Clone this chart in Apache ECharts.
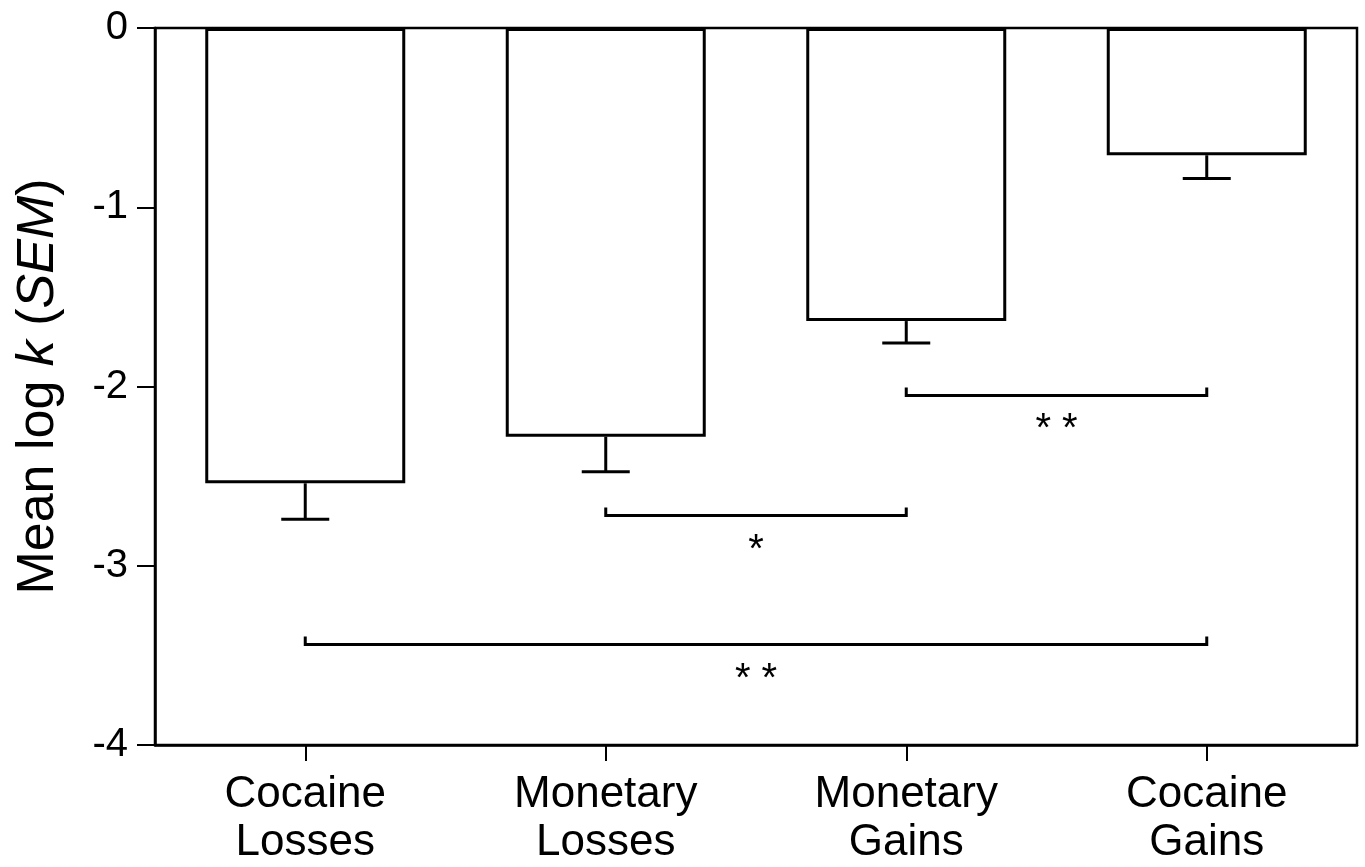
<!DOCTYPE html>
<html>
<head>
<meta charset="utf-8">
<script src="https://cdn.jsdelivr.net/npm/echarts@6/dist/echarts.min.js"></script>
<style>html,body{margin:0;padding:0;background:#fff;}#chart{width:1365px;height:867px;}</style>
</head>
<body>
<div id="chart"></div>
<script>
const categories = ['Cocaine\nLosses', 'Monetary\nLosses', 'Monetary\nGains', 'Cocaine\nGains'];
const means = [-2.54, -2.28, -1.635, -0.71];
const sems = [0.20, 0.195, 0.122, 0.13];
const yTicks = [0, -1, -2, -3, -4];
// brackets: [fromIndex, toIndex, yValue, label]
const brackets = [
  [1, 2, -2.72, '*'],
  [2, 3, -2.05, '* *'],
  [0, 3, -3.44, '* *']
];

const FONT = 'Liberation Sans, Arial, sans-serif';
const chart = echarts.init(document.getElementById('chart'), null, {renderer: 'canvas'});

const errData = means.map((m, i) => [i, m, m - sems[i]]);
const brData = brackets.map(b => [b[0], b[1], b[2]]);

chart.setOption({
  animation: false,
  backgroundColor: '#fff',
  grid: {left: 155, right: 8, top: 28, bottom: 122, show: true, borderColor: '#000', borderWidth: 2.5,
    backgroundColor: 'transparent', containLabel: false, outerBoundsMode: 'none'},
  xAxis: {
    type: 'category',
    data: categories,
    position: 'bottom',
    axisLine: {show: true, onZero: false, lineStyle: {color: '#000', width: 2.5}},
    axisTick: {show: true, alignWithLabel: true, length: 16, lineStyle: {color: '#000', width: 2}},
    axisLabel: {color: '#000', fontFamily: FONT, fontSize: 44, lineHeight: 48, margin: 26},
    splitLine: {show: false}
  },
  yAxis: {
    type: 'value',
    min: -4, max: 0, interval: 1,
    axisLine: {show: true, lineStyle: {color: '#000', width: 2.5}},
    axisTick: {show: true, length: 18, lineStyle: {color: '#000', width: 2}},
    axisLabel: {color: '#000', fontFamily: FONT, fontSize: 40, margin: 27,
      formatter: v => String(v)},
    splitLine: {show: false},
    name: '{n|Mean log }{i|k}{n| (}{i|SEM}{n|)}',
    nameLocation: 'middle',
    nameGap: 90,
    nameRotate: 90,
    nameTextStyle: {
      rich: {
        n: {fontFamily: FONT, fontSize: 52, color: '#000'},
        i: {fontFamily: FONT, fontSize: 52, color: '#000', fontStyle: 'italic'}
      }
    }
  },
  series: [
    {
      type: 'bar',
      data: means,
      barWidth: 200,
      itemStyle: {color: '#fff', borderColor: '#000', borderWidth: 3},
      z: 2
    },
    {
      type: 'custom',
      data: errData,
      z: 3,
      renderItem: function (params, api) {
        const top = api.coord([api.value(0), api.value(1)]);
        const bot = api.coord([api.value(0), api.value(2)]);
        const half = 24;
        return {
          type: 'group',
          children: [
            {type: 'line', shape: {x1: top[0], y1: top[1], x2: bot[0], y2: bot[1]}, style: {stroke: '#000', lineWidth: 3}},
            {type: 'line', shape: {x1: bot[0] - half, y1: bot[1], x2: bot[0] + half, y2: bot[1]}, style: {stroke: '#000', lineWidth: 3}}
          ]
        };
      }
    },
    {
      type: 'custom',
      data: brData,
      z: 3,
      renderItem: function (params, api) {
        const p1 = api.coord([api.value(0), api.value(2)]);
        const p2 = api.coord([api.value(1), api.value(2)]);
        const h = 8;
        const label = brackets[params.dataIndex][3];
        return {
          type: 'group',
          children: [
            {type: 'polyline', shape: {points: [[p1[0], p1[1] - h], [p1[0], p1[1]], [p2[0], p2[1]], [p2[0], p2[1] - h]]}, style: {stroke: '#000', lineWidth: 3, fill: null}},
            {type: 'text', style: {text: label, x: (p1[0] + p2[0]) / 2, y: p1[1] + 15, align: 'center', verticalAlign: 'top', font: '40px ' + FONT, fill: '#000'}}
          ]
        };
      }
    }
  ]
});
</script>
</body>
</html>
